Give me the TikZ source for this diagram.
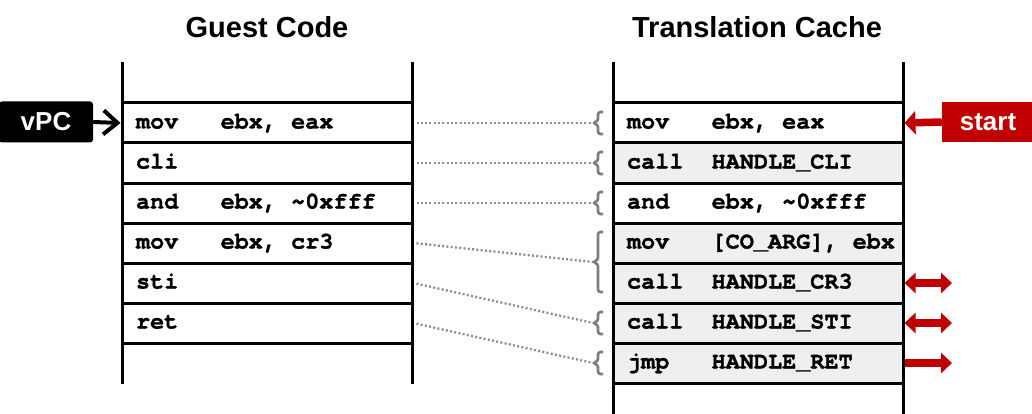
\documentclass[tikz,border=0pt]{standalone}
\usepackage{fontspec}
\setmainfont{Liberation Sans}
\setmonofont{TeX Gyre Cursor}[BoldFeatures={FakeBold=1.2}]
\usetikzlibrary{arrows.meta}
\definecolor{rowgray}{HTML}{EFEFEF}
\definecolor{darkred}{HTML}{C00000}
\definecolor{dotgray}{HTML}{8C8C8C}
\definecolor{bracegray}{HTML}{7F7F7F}
\newcommand\sps{\hspace*{0.6em}}
\newcommand\fff{\mbox{f}\mbox{f}\mbox{f}}
\newcommand\instr[2]{\makebox[6\fontcharwd\font`m][l]{#1}#2}
\tikzset{
  title/.style={anchor=base, font=\fontsize{29}{34}\selectfont\bfseries},
  row/.style={rectangle, draw=black, line width=3pt, minimum width=290pt, minimum height=40pt,
    text width=262pt, inner xsep=14pt, inner ysep=0pt, align=left, text height=14pt, text depth=3pt,
    font=\fontsize{23.5}{26}\selectfont\ttfamily\bfseries},
  grayrow/.style={row, fill=rowgray},
  colline/.style={line width=3pt, line cap=rect},
  dotlink/.style={dotgray, line width=2.3pt, dash pattern=on 2pt off 2.3pt, shorten <=3pt},
  gbrace/.style={bracegray, line width=2.7pt, rounded corners=2.5pt},
  redarrow/.style={darkred, line width=7.5pt},
  tagbox/.style={rectangle, inner sep=0pt, text=white, font=\fontsize{26}{30}\selectfont\bfseries}
}
\begin{document}
\begin{tikzpicture}[x=1pt, y=-1pt]
\useasboundingbox (0,0) rectangle (1032,414);
% titles
\node[title] (tg) at (267,38) {Guest Code};
\node[title] (tt) at (757,38) {Translation Cache};
% guest code column
\draw[colline] (122,64) -- (122,382);
\draw[colline] (412,64) -- (412,382);
\node[row] (g1) at (267,123) {\instr{mov}{ebx,\sps eax}};
\node[row] (g2) at (267,163) {\instr{cli}{}};
\node[row] (g3) at (267,203) {\instr{and}{ebx,\sps\textasciitilde 0x\fff}};
\node[row] (g4) at (267,243) {\instr{mov}{ebx,\sps cr3}};
\node[row] (g5) at (267,283) {\instr{sti}{}};
\node[row] (g6) at (267,323) {\instr{ret}{}};
% translation cache column
\draw[colline] (613,64) -- (613,414);
\draw[colline] (903,64) -- (903,414);
\node[row] (t1) at (758,123) {\instr{mov}{ebx,\sps eax}};
\node[grayrow] (t2) at (758,163) {\instr{call}{HANDLE\_CLI}};
\node[row] (t3) at (758,203) {\instr{and}{ebx,\sps\textasciitilde 0x\fff}};
\node[grayrow] (t4) at (758,243) {\instr{mov}{[CO\_ARG],\sps ebx}};
\node[grayrow] (t5) at (758,283) {\instr{call}{HANDLE\_CR3}};
\node[grayrow] (t6) at (758,323) {\instr{call}{HANDLE\_STI}};
\node[grayrow] (t7) at (758,363) {\instr{jmp}{HANDLE\_RET}};
% braces (tip at x=593)
\draw[gbrace] (603,112) -- (598,112) -- (598,121) -- (593,123) -- (598,125) -- (598,134) -- (603,134);
\draw[gbrace] (603,152) -- (598,152) -- (598,161) -- (593,163) -- (598,165) -- (598,174) -- (603,174);
\draw[gbrace] (603,192) -- (598,192) -- (598,201) -- (593,203) -- (598,205) -- (598,214) -- (603,214);
\draw[gbrace] (603,232) -- (598,232) -- (598,260) -- (593,262) -- (598,264) -- (598,292) -- (603,292);
\draw[gbrace] (603,312) -- (598,312) -- (598,321) -- (593,323) -- (598,325) -- (598,334) -- (603,334);
\draw[gbrace] (603,352) -- (598,352) -- (598,361) -- (593,363) -- (598,365) -- (598,374) -- (603,374);
\coordinate (b1) at (593,123);
\coordinate (b2) at (593,163);
\coordinate (b3) at (593,203);
\coordinate (b4) at (593,262);
\coordinate (b5) at (593,323);
\coordinate (b6) at (593,363);
% dotted links
\draw[dotlink] (g1.east) -- (b1);
\draw[dotlink] (g2.east) -- (b2);
\draw[dotlink] (g3.east) -- (b3);
\draw[dotlink] (g4.east) -- (b4);
\draw[dotlink] (g5.east) -- (b5);
\draw[dotlink] (g6.east) -- (b6);
% vPC
\node[tagbox, fill=black, rounded corners=3pt, minimum width=94pt, minimum height=41pt] (vpc) at (46,122) {vPC};
\draw[line width=4pt, -{Straight Barb[length=14pt, width=24pt]}] (vpc.east) -- (g1.west);
% start
\node[tagbox, fill=darkred, minimum width=92pt, minimum height=40pt] (st) at (988,122) {start};
\draw[redarrow, -{Triangle[length=11pt, width=23pt]}] (st.west) -- (t1.east);
% side arrows
\coordinate (r5) at (952,283);
\coordinate (r6) at (952,323);
\coordinate (r7) at (952,363);
\draw[redarrow, {Triangle[length=11pt, width=20pt]}-{Triangle[length=11pt, width=20pt]}] (t5.east) -- (r5);
\draw[redarrow, {Triangle[length=11pt, width=20pt]}-{Triangle[length=11pt, width=20pt]}] (t6.east) -- (r6);
\draw[redarrow, -{Triangle[length=11pt, width=20pt]}] (t7.east) -- (r7);
\end{tikzpicture}
\end{document}
